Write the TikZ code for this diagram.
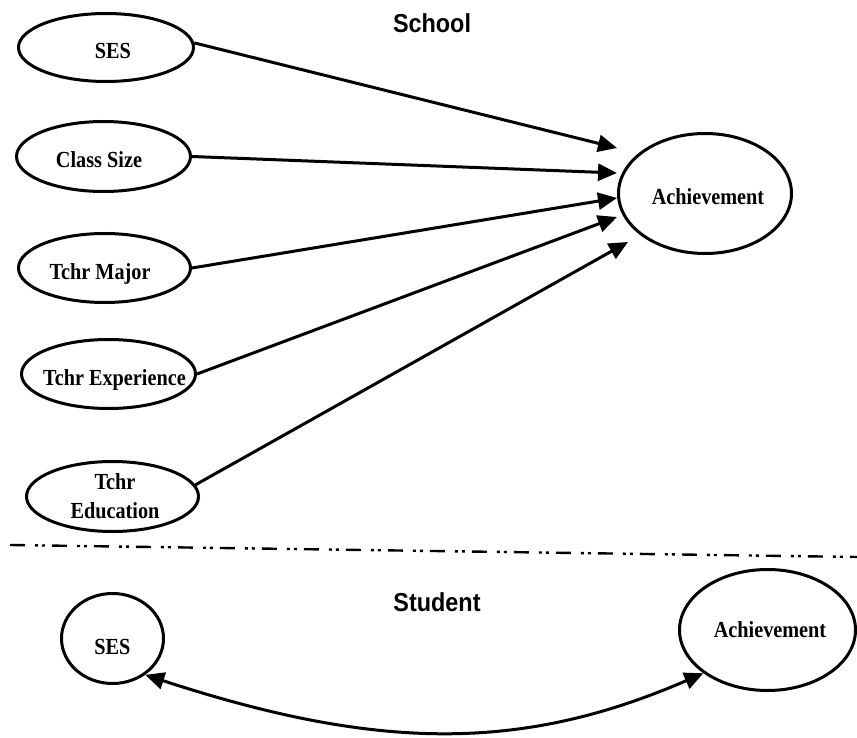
\documentclass[tikz,border=0pt]{standalone}
\usepackage{fontspec}
\setmainfont{Liberation Serif}
\newfontfamily\lblfont{Liberation Serif}[FakeStretch=0.88]
\newfontfamily\headfont{Liberation Sans}[FakeStretch=0.9]
\usetikzlibrary{shapes.geometric,arrows.meta}
\newcommand{\zerobox}[1]{\makebox[0pt]{#1}}
\begin{document}
\begin{tikzpicture}[x=1pt,y=-1pt,
  var/.style={ellipse,draw,line width=3pt,inner sep=0pt,
    font=\lblfont\bfseries\fontsize{23}{29}\selectfont,align=center},
  low/.style={text height=23pt,text depth=0pt},
  arr/.style={line width=3pt,-{Triangle[length=19pt,width=17pt]}},
  arrb/.style={line width=3pt,{Triangle[length=19pt,width=17pt]}-{Triangle[length=19pt,width=17pt]}},
  head/.style={font=\headfont\bfseries\fontsize{26}{30}\selectfont},
  sep/.style={line width=2.4pt,dash pattern=on 15pt off 10pt on 3pt off 4pt on 3pt off 7pt}]
\useasboundingbox (0,0) rectangle (857,738);
% headings
\node[head] (school) at (432,23) {School};
\node[head] (student) at (437,602) {Student};
% school level
\node[var,low,minimum width=175,minimum height=68] (ses) at (106,47.5) {\zerobox{\hspace*{14pt}SES}};
\node[var,low,minimum width=174,minimum height=70] (cls) at (103.5,156.5) {\zerobox{Class Size\hspace*{9pt}}};
\node[var,low,minimum width=172,minimum height=69] (maj) at (104.5,268) {\zerobox{Tchr Major\hspace*{9pt}}};
\node[var,low,minimum width=174,minimum height=69] (exp) at (108.5,374) {\zerobox{\hspace*{12pt}Tchr Experience}};
\node[var,minimum width=172,minimum height=70] (edu) at (112.5,496.5) {\zerobox{\hspace*{5pt}Tchr}\\\zerobox{\hspace*{5pt}Education}};
\node[var,low,minimum width=173,minimum height=120] (ach) at (705,193.5) {\zerobox{\hspace*{6pt}Achievement}};
\coordinate (t1) at (617,148);
\coordinate (t2) at (617,173);
\coordinate (t3) at (617,198);
\coordinate (t4) at (617,217);
\coordinate (t5) at (628,242);
\draw[arr] (ses.3) -- (t1);
\draw[arr] (cls.east) -- (t2);
\draw[arr] (maj.east) -- (t3);
\draw[arr] (exp.east) -- (t4);
\draw[arr] (edu.8) -- (t5);
% separator
\coordinate (sl) at (10,545);
\coordinate (sr) at (857,557);
\draw[sep] (sl) -- (sr);
% student level
\node[var,text height=31pt,text depth=0pt,minimum width=102,minimum height=90] (sesb) at (112.5,638.5) {\zerobox{SES}};
\node[var,minimum width=176,minimum height=121] (achb) at (767.5,630) {\zerobox{\hspace*{5pt}Achievement}};
\draw[arrb] (sesb.-48) .. controls +(235,77) and +(-180,78) .. (achb.-146);
\end{tikzpicture}
\end{document}
